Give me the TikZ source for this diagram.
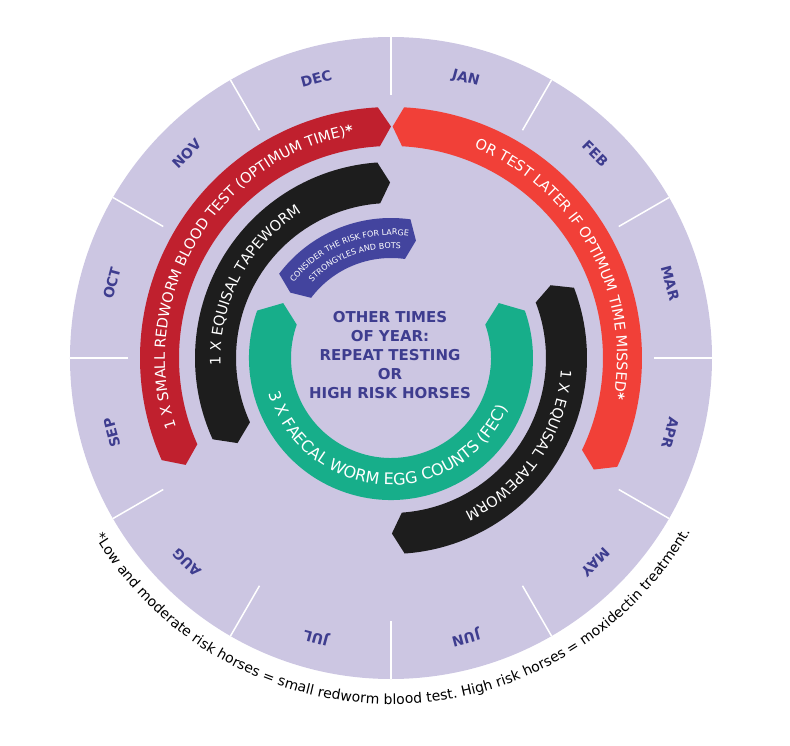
\documentclass[tikz,border=0pt]{standalone}
\usepackage{fontspec}
\setmainfont{DejaVu Sans}
\usetikzlibrary{decorations.text}

\definecolor{discfill}{RGB}{204,198,226}
\definecolor{testred}{RGB}{192,32,46}
\definecolor{laterred}{RGB}{241,64,56}
\definecolor{tapeblack}{RGB}{29,29,29}
\definecolor{fecgreen}{RGB}{23,174,138}
\definecolor{riskblue}{RGB}{67,68,158}
\definecolor{monthblue}{RGB}{62,61,143}

\newcommand\bandfont{\fontsize{14.5}{16}\selectfont}
\newcommand\fecfont{\fontsize{16}{18}\selectfont}
\newcommand\tagfont{\fontsize{8}{9}\selectfont}
\newcommand\notefont{\fontsize{14}{16}\selectfont}

\tikzset{
  month/.style={font=\bfseries\fontsize{14}{16}\selectfont, text=monthblue},
  bandtext/.style={decorate, decoration={text along path, text align=center, text color=white, text={#1}}},
  notetext/.style={decorate, decoration={text along path, text align=center, text color=black, text={#1}}},
}

\begin{document}
\begin{tikzpicture}[x=1pt, y=1pt]
% Canvas 790 x 745, origin at the centre of the disc
\useasboundingbox (-391,-387) rectangle (399,358);

% Disc and month dividers (every 30 degrees)
\fill[discfill] (0,0) circle[radius=321];
\foreach \a in {0,30,...,330}
  \draw[white, line width=1.5pt] (\a:263) -- (\a:321);

% Month labels (tangential, tops outwards)
\node (jan) at (75:289) [month, rotate=-15] {JAN};
\node (feb) at (45:289) [month, rotate=-45] {FEB};
\node (mar) at (15:289) [month, rotate=-75] {MAR};
\node (apr) at (-15:289) [month, rotate=-105] {APR};
\node (may) at (-45:289) [month, rotate=-135] {MAY};
\node (jun) at (-75:289) [month, rotate=-165] {JUN};
\node (jul) at (-105:289) [month, rotate=-195] {JUL};
\node (aug) at (-135:289) [month, rotate=-225] {AUG};
\node (sep) at (-165:289) [month, rotate=-255] {SEP};
\node (oct) at (165:289) [month, rotate=75] {OCT};
\node (nov) at (135:289) [month, rotate=45] {NOV};
\node (dec) at (105:289) [month, rotate=15] {DEC};

% Blood test bands (pointed ends)
\fill[testred] (93:251) arc[start angle=93, end angle=204, radius=251] -- (207.5:231.5) -- (204:212) arc[start angle=204, end angle=93, radius=212] -- (90:231.5) -- cycle;
\fill[laterred] (87:251) arc[start angle=87, end angle=-25.7, radius=251] -- (-28.8:231.5) -- (-25.7:212) arc[start angle=-25.7, end angle=87, radius=212] -- (89.6:231.5) -- cycle;

% Tapeworm bands
\fill[tapeblack] (94:196) arc[start angle=94, end angle=204.5, radius=196] -- (209:175.5) -- (204.5:155) arc[start angle=204.5, end angle=94, radius=155] -- (90.3:175.5) -- cycle;
\fill[tapeblack] (21:196) arc[start angle=21, end angle=-86, radius=196] -- (-89.7:175.5) -- (-86:155) arc[start angle=-86, end angle=21, radius=155] -- (24.5:175.5) -- cycle;

% FEC band and the small risk tag in its gap
\fill[fecgreen] (160.5:142) arc[start angle=160.5, end angle=379.5, radius=142] -- (387:121) -- (379.5:100) arc[start angle=379.5, end angle=160.5, radius=100] -- (153:121) -- cycle;
\fill[riskblue] (143:140) arc[start angle=143, end angle=82, radius=140] -- (78:120) -- (82:100) arc[start angle=82, end angle=143, radius=100] -- (147:120) -- cycle;

% Band texts
\path[bandtext={|\bandfont|1 X SMALL REDWORM BLOOD TEST (OPTIMUM TIME)|\bandfont\bfseries|*}] (206:226) arc[start angle=206, end angle=91.5, radius=226];
\path[bandtext={|\bandfont|OR TEST LATER IF OPTIMUM TIME MISSED|\bandfont\bfseries|*}] (86:226) arc[start angle=86, end angle=-28, radius=226];
\path[bandtext={|\bandfont|1 X EQUISAL TAPEWORM}] (200:170.5) arc[start angle=200, end angle=104, radius=170.5];
\path[bandtext={|\bandfont|1 X EQUISAL TAPEWORM}] (15:170.5) arc[start angle=15, end angle=-83.2, radius=170.5];
\path[bandtext={|\fecfont|3 X FAECAL WORM EGG COUNTS (FEC)}] (160:127) arc[start angle=160, end angle=373, radius=127];
\path[bandtext={|\tagfont|CONSIDER THE RISK FOR LARGE}] (150:123) arc[start angle=150, end angle=74, radius=123];
\path[bandtext={|\tagfont|STRONGYLES AND BOTS}] (146:109.5) arc[start angle=146, end angle=75, radius=109.5];

% Centre text
\node (centre) at (-1,3) [align=center, font=\bfseries\fontsize{15}{19}\selectfont, text=monthblue] {OTHER TIMES\\OF YEAR:\\REPEAT TESTING\\OR\\HIGH RISK HORSES};

% Footnote round the bottom of the disc
\path[notetext={|\notefont|*Low and moderate risk horses = small redworm blood test. High risk horses = moxidectin treatment.}] (-150:346) arc[start angle=-150, end angle=-29, radius=346];
\end{tikzpicture}
\end{document}
